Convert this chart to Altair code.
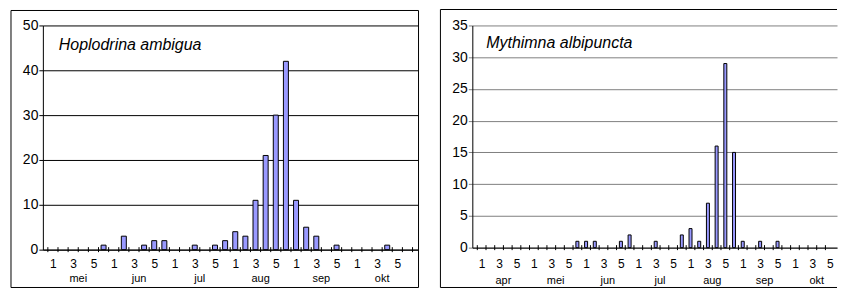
import json
import altair as alt
import pandas as pd

FONT = "Liberation Sans"

day_labels = ["1", "3", "5"]

left_title = "Hoplodrina ambigua"
left_months = ["mei", "jun", "jul", "aug", "sep", "okt"]
left_counts = [0, 0, 0, 0, 0, 1,
               0, 3, 0, 1, 2, 2,
               0, 0, 1, 0, 1, 2,
               4, 3, 11, 21, 30, 42,
               11, 5, 3, 0, 1, 0,
               0, 0, 0, 1, 0, 0]
left_yticks = [0, 10, 20, 30, 40, 50]

right_title = "Mythimna albipuncta"
right_months = ["apr", "mei", "jun", "jul", "aug", "sep", "okt"]
right_counts = [0, 0, 0, 0, 0, 0,
                0, 0, 0, 0, 0, 1,
                1, 1, 0, 0, 1, 2,
                0, 0, 1, 0, 0, 2,
                3, 1, 7, 16, 29, 15,
                1, 0, 1, 0, 1, 0,
                0, 0, 0, 0, 0, 0]
right_yticks = [0, 5, 10, 15, 20, 25, 30, 35]


def panel(months, counts, yticks, title, W, H, xmax, grid_color, bar_w,
          title_x, title_y, day_pad, month_dy, full_frame):
    n = len(counts)
    bars = pd.DataFrame({"x": [i + 0.5 for i in range(n)], "v": counts})
    bars = bars[bars.v > 0]
    bounds = pd.DataFrame({"x": [b for b in range(n + 1) if b <= xmax]})
    mdf = pd.DataFrame({"x": [6 * k + 3 for k in range(len(months))], "m": months})
    tdf = pd.DataFrame({"t": [title]})
    one = pd.DataFrame({"a": [0]})

    xscale = alt.Scale(domain=[0, xmax], nice=False, zero=False)
    yscale = alt.Scale(domain=[0, yticks[-1]], nice=False)
    day_vals = [i + 0.5 for i in range(n) if i % 2 == 0 and i + 0.5 <= xmax]
    xaxis = alt.Axis(values=day_vals,
                     labelExpr=json.dumps(day_labels) + "[floor(datum.value/2)%3]",
                     ticks=False, tickSize=0, grid=False, domainColor="black",
                     labelFont=FONT, labelFontSize=12, labelPadding=day_pad,
                     labelColor="black", title=None, labelFlush=False,
                     labelOverlap=False)
    x_enc = alt.X("x:Q", scale=xscale, axis=xaxis)

    layers = []
    if full_frame:
        frame = alt.Chart(one).mark_rect(filled=False, stroke="black", strokeWidth=1).encode(
            x=alt.value(-32), x2=alt.value(W + 1), y=alt.value(-15), y2=alt.value(H + 38))
        layers.append(frame)
    else:
        top = alt.Chart(one).mark_rule(color="black", strokeWidth=1).encode(
            x=alt.value(-32), x2=alt.value(W), y=alt.value(-16))
        bottom = alt.Chart(one).mark_rule(color="black", strokeWidth=1).encode(
            x=alt.value(-32), x2=alt.value(W), y=alt.value(H + 40))
        leftl = alt.Chart(one).mark_rule(color="black", strokeWidth=1).encode(
            x=alt.value(-32), y=alt.value(-16), y2=alt.value(H + 40))
        layers += [top, bottom, leftl]

    bar = alt.Chart(bars).mark_bar(color="#9999FF", stroke="black", strokeWidth=1,
                                   size=bar_w).encode(
        x=x_enc,
        y=alt.Y("v:Q", scale=yscale,
                axis=alt.Axis(values=yticks, grid=True, gridColor=grid_color,
                              gridOpacity=1, tickSize=4, tickColor=grid_color,
                              domainColor="black", labelFont=FONT,
                              labelFontSize=14, labelPadding=1,
                              labelColor="black", title=None)),
    )
    ticks = alt.Chart(bounds).mark_rule(color="black", strokeWidth=1).encode(
        x=x_enc, y=alt.value(H - 2.5), y2=alt.value(H + 2.5))
    mtext = alt.Chart(mdf).mark_text(font=FONT, fontSize=11, baseline="middle",
                                     align="center", color="black").encode(
        x=x_enc, y=alt.value(H + month_dy), text="m:N")
    ttext = alt.Chart(tdf).mark_text(font=FONT, fontSize=16, fontStyle="italic",
                                     align="left", baseline="alphabetic",
                                     color="black").encode(
        x=alt.value(title_x), y=alt.value(title_y), text="t:N")
    layers += [bar, ticks, mtext, ttext]
    return alt.layer(*layers).properties(width=W, height=H)


left = panel(left_months, left_counts, left_yticks, left_title,
             W=376, H=225, xmax=36, grid_color="black", bar_w=5,
             title_x=16, title_y=25, day_pad=9, month_dy=29, full_frame=True)
right = panel(right_months, right_counts, right_yticks, right_title,
              W=366, H=223, xmax=40.76, grid_color="#808080", bar_w=3,
              title_x=14, title_y=23, day_pad=11, month_dy=33, full_frame=False)

chart = alt.hconcat(left, right, spacing=20).properties(
    padding={"left": 2, "top": 0, "right": 0, "bottom": 0}
).configure_view(stroke="transparent")

chart.save("out.html", embed_options={"renderer": "svg", "actions": False})
